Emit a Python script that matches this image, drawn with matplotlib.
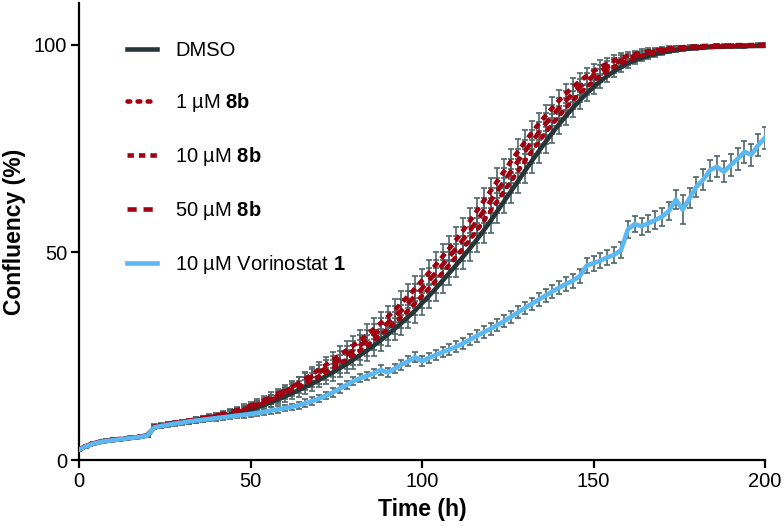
import numpy as np
import matplotlib
matplotlib.use('Agg')
import matplotlib.pyplot as plt

# time axis (h), one reading every 2 h
time_h = np.arange(0, 201, 2)

dmso = [2.5, 3.3, 3.9, 4.3, 4.6, 4.8, 5.0, 5.2, 5.4, 5.6, 5.9,
        7.9, 8.2, 8.5, 8.8, 9.0, 9.3, 9.5, 9.8, 10.0, 10.3,
        10.6, 11.0, 11.4, 11.8, 12.2, 12.7, 13.3, 13.9, 14.6, 15.3,
        16.1, 16.8, 17.6, 18.4, 19.3, 20.2, 21.1, 22.1, 23.1, 24.2,
        25.3, 26.4, 27.6, 28.9, 30.2, 31.6, 33.0, 34.5, 36.0, 37.8,
        39.5, 41.3, 43.2, 45.1, 47.0, 49.0, 51.0, 53.1, 55.3, 57.6,
        60.0, 62.4, 64.8, 67.2, 69.6, 72.0, 74.3, 76.6, 78.8, 80.9,
        82.9, 84.8, 86.6, 88.3, 89.8, 91.2, 92.5, 93.6, 94.6, 95.5,
        96.2, 96.8, 97.3, 97.7, 98.1, 98.4, 98.7, 98.9, 99.1, 99.2,
        99.3, 99.4, 99.5, 99.5, 99.6, 99.6, 99.6, 99.7, 99.7, 99.7]

c8b_1 = [2.6, 3.4, 4.0, 4.4, 4.7, 4.9, 5.1, 5.3, 5.5, 5.7, 6.0,
         8.0, 8.3, 8.6, 8.9, 9.1, 9.4, 9.6, 9.9, 10.1, 10.4,
         10.8, 11.2, 11.6, 12.1, 12.6, 13.2, 13.8, 14.5, 15.3, 16.1,
         16.8, 17.6, 18.4, 19.3, 20.2, 21.1, 22.1, 23.1, 24.2, 25.3,
         26.4, 27.6, 28.9, 30.2, 31.6, 33.0, 34.5, 36.0, 37.8, 39.5,
         41.3, 43.2, 45.1, 47.0, 49.0, 51.0, 53.1, 55.3, 57.6, 60.0,
         62.4, 64.8, 67.2, 69.6, 72.0, 74.3, 76.6, 78.8, 80.9, 82.9,
         84.8, 86.6, 88.3, 89.8, 91.2, 92.5, 93.6, 94.6, 95.5, 96.2,
         96.8, 97.3, 97.7, 98.1, 98.4, 98.7, 98.9, 99.1, 99.2, 99.3,
         99.4, 99.5, 99.5, 99.6, 99.6, 99.7, 99.7, 99.7, 99.8, 99.8]

c8b_10 = [2.5, 3.3, 3.9, 4.3, 4.6, 4.8, 5.0, 5.2, 5.4, 5.6, 5.9,
          8.0, 8.3, 8.6, 8.9, 9.1, 9.4, 9.7, 10.0, 10.3, 10.6,
          10.9, 11.3, 11.7, 12.2, 12.7, 13.3, 13.9, 14.6, 15.5, 16.4,
          17.4, 18.5, 19.6, 20.7, 21.8, 22.9, 24.1, 25.3, 26.4, 27.6,
          28.9, 30.2, 31.6, 33.0, 34.5, 36.0, 37.8, 39.5, 41.3, 43.2,
          45.1, 47.0, 49.0, 51.0, 53.1, 55.3, 57.6, 60.0, 62.4, 64.8,
          67.2, 69.6, 72.0, 74.3, 76.6, 78.8, 80.9, 82.9, 84.8, 86.6,
          88.3, 89.8, 91.2, 92.5, 93.6, 94.6, 95.5, 96.2, 96.8, 97.3,
          97.7, 98.1, 98.4, 98.7, 98.9, 99.1, 99.3, 99.4, 99.5, 99.6,
          99.7, 99.7, 99.8, 99.8, 99.8, 99.9, 99.9, 99.9, 100.0, 100.0]

c8b_50 = [2.5, 3.4, 4.0, 4.4, 4.7, 4.9, 5.1, 5.3, 5.5, 5.7, 6.0,
          8.1, 8.4, 8.7, 9.0, 9.2, 9.5, 9.8, 10.1, 10.4, 10.7,
          11.1, 11.5, 12.0, 12.5, 13.1, 13.7, 14.4, 15.2, 16.0, 16.8,
          17.6, 18.4, 19.3, 20.2, 21.1, 22.1, 23.1, 24.2, 25.3, 26.4,
          27.6, 28.9, 30.2, 31.6, 33.0, 34.5, 36.0, 37.8, 39.5, 41.3,
          43.2, 45.1, 47.0, 49.0, 51.0, 53.1, 55.3, 57.6, 60.0, 62.4,
          64.8, 67.2, 69.6, 72.0, 74.3, 76.6, 78.8, 80.9, 82.9, 84.8,
          86.6, 88.3, 89.8, 91.2, 92.5, 93.6, 94.6, 95.5, 96.2, 96.8,
          97.3, 97.7, 98.1, 98.4, 98.7, 98.9, 99.1, 99.2, 99.3, 99.4,
          99.5, 99.5, 99.6, 99.6, 99.7, 99.7, 99.7, 99.8, 99.8, 99.8]

vorinostat = [2.5, 3.3, 3.9, 4.3, 4.6, 4.8, 5.0, 5.2, 5.4, 5.6, 5.9,
              7.9, 8.2, 8.5, 8.8, 9.0, 9.3, 9.5, 9.7, 9.9, 10.1,
              10.3, 10.5, 10.7, 10.9, 11.1, 11.3, 11.6, 11.9, 12.2, 12.5,
              12.8, 13.2, 13.7, 14.2, 14.8, 15.5, 16.3, 17.2, 18.1, 19.0,
              19.7, 20.3, 20.9, 21.7, 21.1, 22.0, 23.0, 23.8, 24.8, 23.8,
              24.6, 25.3, 26.0, 26.6, 27.3, 28.1, 29.0, 29.9, 30.8, 31.6,
              32.5, 33.5, 34.5, 35.6, 36.6, 37.6, 38.6, 39.6, 40.6, 41.5,
              42.4, 43.2, 44.3, 46.8, 47.4, 48.0, 48.8, 49.4, 50.5, 55.5,
              56.8, 56.3, 57.0, 57.8, 58.6, 60.0, 62.7, 60.3, 63.0, 65.8,
              67.5, 69.8, 70.6, 69.4, 71.0, 72.5, 74.2, 73.5, 75.8, 77.6]

# SEM error bars
err_dmso = [0.3, 0.3, 0.3, 0.3, 0.3, 0.3, 0.3, 0.3, 0.3, 0.3, 0.3,
            0.5, 0.5, 0.5, 0.5, 0.5, 0.5, 0.6, 0.6, 0.6, 0.7,
            0.7, 0.8, 0.8, 0.9, 0.9, 1.0, 1.0, 1.1, 1.2, 1.3,
            1.4, 1.5, 1.6, 1.7, 1.8, 1.9, 2.0, 2.1, 2.2, 2.3,
            2.4, 2.5, 2.5, 2.6, 2.7, 2.7, 2.8, 2.8, 2.9, 2.9,
            3.0, 3.0, 3.0, 3.0, 3.0, 3.0, 3.0, 3.0, 3.0, 3.0,
            3.0, 3.0, 2.9, 2.9, 2.8, 2.8, 2.7, 2.6, 2.5, 2.4,
            2.3, 2.2, 2.0, 1.9, 1.7, 1.6, 1.4, 1.3, 1.2, 1.0,
            0.9, 0.8, 0.7, 0.6, 0.6, 0.5, 0.5, 0.4, 0.4, 0.4,
            0.3, 0.3, 0.3, 0.3, 0.3, 0.3, 0.3, 0.3, 0.3, 0.3]

err_vor = [0.3, 0.3, 0.3, 0.3, 0.3, 0.3, 0.3, 0.3, 0.3, 0.3, 0.3,
           0.4, 0.4, 0.4, 0.4, 0.4, 0.5, 0.5, 0.5, 0.5, 0.6,
           0.6, 0.6, 0.6, 0.7, 0.7, 0.7, 0.7, 0.8, 0.8, 0.8,
           0.8, 0.8, 0.9, 0.9, 0.9, 0.9, 1.0, 1.0, 1.0, 1.0,
           1.0, 1.0, 1.1, 1.1, 1.1, 1.1, 1.2, 1.2, 1.2, 1.2,
           1.2, 1.2, 1.3, 1.3, 1.3, 1.3, 1.3, 1.4, 1.4, 1.4,
           1.4, 1.4, 1.5, 1.5, 1.5, 1.5, 1.6, 1.6, 1.6, 1.6,
           1.7, 1.7, 1.7, 1.8, 1.8, 1.8, 1.8, 1.9, 1.9, 2.0,
           2.0, 2.0, 2.1, 2.1, 2.2, 2.2, 2.3, 3.5, 2.4, 2.4,
           2.5, 2.5, 2.5, 2.5, 2.6, 2.6, 2.6, 2.7, 2.7, 2.6]

plt.rcParams['mathtext.fontset'] = 'custom'
plt.rcParams['mathtext.rm'] = 'Liberation Sans'
plt.rcParams['mathtext.bf'] = 'Liberation Sans:bold'

dark = '#263636'
red = '#a0000f'
blue = '#5cb8f2'
barc = '#4f6668'
font = ['Liberation Sans', 'DejaVu Sans']

fig = plt.figure(figsize=(7.84, 5.27), dpi=100)
ax = fig.add_axes([0.1008, 0.127, 0.875, 0.867])

# error bars first, lines on top
for y, e in [(dmso, err_dmso), (c8b_1, err_dmso), (c8b_10, err_dmso), (c8b_50, err_dmso), (vorinostat, err_vor)]:
    ax.errorbar(time_h, y, yerr=e, fmt='none', ecolor=barc, elinewidth=1.2, capsize=2.5, capthick=1.2, zorder=1)

ax.plot(time_h, dmso, color=dark, lw=3.3, label='DMSO', zorder=3)
ax.plot(time_h, c8b_1, color=red, lw=3.3, ls=(0, (0.6, 1.6)), dash_capstyle='round', label=r'1 µM $\mathbf{8b}$', zorder=4)
ax.plot(time_h, c8b_10, color=red, lw=3.3, ls=(0, (1.4, 1.1)), label=r'10 µM $\mathbf{8b}$', zorder=4)
ax.plot(time_h, c8b_50, color=red, lw=3.3, ls=(0, (2.0, 1.5)), label=r'50 µM $\mathbf{8b}$', zorder=4)
ax.plot(time_h, vorinostat, color=blue, lw=3.3, label=r'10 µM Vorinostat $\mathbf{1}$', zorder=5)

ax.set_xlim(0, 200)
ax.set_ylim(0, 110)
ax.set_xticks([0, 50, 100, 150, 200])
ax.set_yticks([0, 50, 100])
for s in ['top', 'right']:
    ax.spines[s].set_visible(False)
for s in ['left', 'bottom']:
    ax.spines[s].set_linewidth(1.6)
ax.tick_params(width=1.6, length=5.5, labelsize=14.5, pad=3)
for lab in ax.get_xticklabels() + ax.get_yticklabels():
    lab.set_family(font)
ax.set_xlabel('Time (h)', fontsize=16.5, fontweight='bold', family=font, labelpad=5)
ax.set_ylabel('Confluency (%)', fontsize=16.5, fontweight='bold', family=font, labelpad=6)

leg = ax.legend(loc='upper left', bbox_to_anchor=(0.162, 0.923), bbox_transform=fig.transFigure,
                frameon=False, borderpad=0, borderaxespad=0, handlelength=1.5, handletextpad=0.9,
                labelspacing=1.54, prop={'family': font, 'size': 14.5})

fig.savefig('out.png', dpi=100)
